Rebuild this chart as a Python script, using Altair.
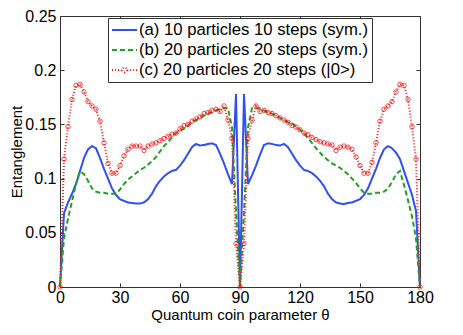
import altair as alt
import pandas as pd

theta = list(range(0, 181, 2))

ent_a = [0, 0.068, 0.078, 0.086, 0.095, 0.107, 0.119, 0.127, 0.130, 0.128,
         0.119, 0.109, 0.100, 0.091, 0.085, 0.081, 0.0795, 0.078, 0.0775, 0.077,
         0.077, 0.078, 0.081, 0.086, 0.093, 0.098, 0.102, 0.105, 0.107, 0.108,
         0.112, 0.117, 0.123, 0.129, 0.132, 0.1305, 0.131, 0.132, 0.1325, 0.131,
         0.123, 0.114, 0.104, 0.095, 0.178, 0,
         0.178, 0.095, 0.103, 0.112, 0.122, 0.131, 0.1325, 0.132, 0.131, 0.1305,
         0.132, 0.129, 0.123, 0.117, 0.112, 0.108, 0.107, 0.105, 0.102, 0.098,
         0.093, 0.086, 0.081, 0.078, 0.077, 0.0765, 0.0775, 0.078, 0.0795, 0.081,
         0.085, 0.091, 0.100, 0.109, 0.119, 0.127, 0.130, 0.128, 0.124, 0.118,
         0.107, 0.096, 0.085, 0.070, 0]

ent_b = [0, 0.045, 0.063, 0.079, 0.095, 0.107, 0.104, 0.098, 0.091, 0.088,
         0.087, 0.087, 0.086, 0.086, 0.086, 0.090, 0.095, 0.099, 0.102, 0.105,
         0.108, 0.110, 0.113, 0.116, 0.120, 0.125, 0.130, 0.134, 0.138, 0.142,
         0.144, 0.146, 0.149, 0.152, 0.154, 0.156, 0.158, 0.160, 0.161, 0.163,
         0.164, 0.165, 0.165, 0.147, 0.070, 0,
         0.070, 0.147, 0.165, 0.165, 0.165, 0.163, 0.161, 0.160, 0.158, 0.156,
         0.154, 0.152, 0.151, 0.148, 0.145, 0.142, 0.137, 0.133, 0.128, 0.124,
         0.120, 0.117, 0.114, 0.112, 0.110, 0.107, 0.104, 0.100, 0.096, 0.091,
         0.087, 0.086, 0.086, 0.087, 0.087, 0.088, 0.091, 0.097, 0.104, 0.107,
         0.094, 0.080, 0.065, 0.045, 0]

ent_c = [0, 0.118, 0.148, 0.173, 0.186, 0.187, 0.180, 0.171, 0.167, 0.164,
         0.153, 0.133, 0.114, 0.105, 0.105, 0.112, 0.121, 0.127, 0.130, 0.130,
         0.130, 0.126, 0.130, 0.132, 0.133, 0.135, 0.137, 0.139, 0.141, 0.142,
         0.146, 0.149, 0.150, 0.153, 0.155, 0.157, 0.160, 0.161, 0.163, 0.164,
         0.162, 0.167, 0.154, 0.137, 0.040, 0,
         0.040, 0.137, 0.154, 0.167, 0.162, 0.163, 0.161, 0.160, 0.158, 0.156,
         0.154, 0.152, 0.149, 0.1475, 0.145, 0.142, 0.1405, 0.138, 0.136, 0.134,
         0.133, 0.132, 0.131, 0.126, 0.129, 0.130, 0.129, 0.127, 0.120, 0.112,
         0.105, 0.105, 0.115, 0.133, 0.153, 0.164, 0.167, 0.171, 0.180, 0.187,
         0.186, 0.173, 0.148, 0.118, 0]

labels = ["(a) 10 particles 10 steps (sym.)",
          "(b) 20 particles 20 steps (sym.)",
          "(c) 20 particles 20 steps (|0>)"]
colors = ["#2f4ff0", "#22a022", "#ff2020"]
x_ticks = [0, 30, 60, 90, 120, 150, 180]
y_ticks = [0, 0.05, 0.1, 0.15, 0.2, 0.25]

rows = []
for lab, vals in zip(labels, [ent_a, ent_b, ent_c]):
    for t, v in zip(theta, vals):
        rows.append({"theta": t, "ent": v, "series": lab})
df = pd.DataFrame(rows)
df_c = df[df["series"] == labels[2]]

FONT = "Liberation Sans"
red_path = ("M-1,0h0.08M-0.76,0h0.08M-0.52,0h0.08M-0.30,0h0.06"
            "M0.24,0h0.06M0.46,0h0.08M0.70,0h0.08M0.92,0h0.08"
            "M0.19,0A0.19,0.19 0 1 1 -0.19,0A0.19,0.19 0 1 1 0.19,0")

shape_expr = f"datum.value === '{labels[2]}' ? '{red_path}' : 'stroke'"
dash_expr = f"datum.value === '{labels[1]}' ? [5, 3] : [1, 0]"

xscale = alt.Scale(domain=[0, 180], nice=False, zero=False)
yscale = alt.Scale(domain=[0, 0.25], nice=False)

legend = alt.Legend(
    title=None, orient="none", legendX=48, legendY=2, direction="vertical",
    fillColor="white", strokeColor="#333333", padding=3,
    labelFont=FONT, labelFontSize=16.7, labelColor="black", labelOffset=1,
    labelLimit=400, symbolSize=625, clipHeight=18, rowPadding=2,
    symbolType={"expr": shape_expr},
    symbolDash={"expr": dash_expr},
    symbolStrokeWidth=1.6,
)

lines = alt.Chart(df).mark_line().encode(
    x=alt.X("theta:Q", scale=xscale,
            axis=alt.Axis(values=x_ticks, title="Quantum coin parameter θ", orient="bottom",
                          labelPadding=2, titlePadding=2)),
    y=alt.Y("ent:Q", scale=yscale,
            axis=alt.Axis(values=y_ticks, format=".2~f", title="Entanglement", orient="left",
                          labelPadding=4, titlePadding=0)),
    color=alt.Color("series:N", scale=alt.Scale(domain=labels, range=colors), legend=legend),
    strokeDash=alt.StrokeDash("series:N", scale=alt.Scale(domain=labels, range=[[1, 0], [5, 3], [1, 2]]),
                              legend=None),
    strokeWidth=alt.StrokeWidth("series:N", scale=alt.Scale(domain=labels, range=[2, 2, 0.9]),
                                legend=None),
    strokeOpacity=alt.StrokeOpacity("series:N", scale=alt.Scale(domain=labels, range=[1, 1, 0.5]),
                                    legend=None),
)

points = alt.Chart(df_c).mark_point(shape="circle", filled=False, size=20, strokeWidth=1,
                                    color="#ff0000").encode(
    x=alt.X("theta:Q", scale=xscale,
            axis=alt.Axis(values=x_ticks, labels=False, title=None, orient="top")),
    y=alt.Y("ent:Q", scale=yscale,
            axis=alt.Axis(values=y_ticks, labels=False, title=None, orient="right")),
)

chart = alt.layer(lines, points).resolve_axis(x="independent", y="independent").properties(
    width=360, height=271,
    autosize=alt.AutoSizeParams(type="none"),
    padding={"left": 52, "top": 8, "right": 30, "bottom": 40},
).configure_view(stroke="#333333", strokeWidth=1).configure_axis(
    domain=False, grid=False, tickSize=4, offset=-4, tickColor="#333333",
    labelFont=FONT, labelFontSize=16, labelColor="black",
    labelFlush=False, labelOverlap=False,
    titleFont=FONT, titleFontSize=15, titleFontWeight="normal", titleColor="black",
)

chart.save("out.html", embed_options={"renderer": "svg", "actions": False})
